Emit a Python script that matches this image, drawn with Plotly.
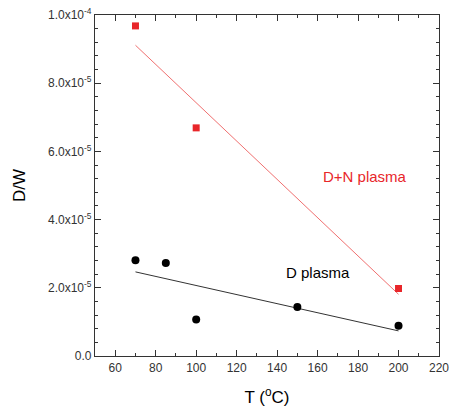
import numpy as np
import plotly.graph_objects as go

# Data
t_dn = [70, 100, 200]
dw_dn = [9.68e-5, 6.69e-5, 1.98e-5]
t_d = [70, 85, 100, 150, 200]
dw_d = [2.81e-5, 2.73e-5, 1.07e-5, 1.44e-5, 0.89e-5]

y_tickvals = [0, 2e-5, 4e-5, 6e-5, 8e-5, 1e-4]
y_ticktext = ["0.0", "2.0x10<sup>-5</sup>", "4.0x10<sup>-5</sup>", "6.0x10<sup>-5</sup>",
              "8.0x10<sup>-5</sup>", "1.0x10<sup>-4</sup>"]
x_tickvals = [60, 80, 100, 120, 140, 160, 180, 200, 220]

RED = "#e8262a"

def fit_line(x, y):
    k, b = np.polyfit(x, y, 1)
    xs = np.array([min(x), max(x)])
    return xs, k * xs + b

fig = go.Figure()
fx, fy = fit_line(t_dn, dw_dn)
fig.add_trace(go.Scatter(x=fx, y=fy, mode="lines", line=dict(color="#f07070", width=1), showlegend=False))
fx, fy = fit_line(t_d, dw_d)
fig.add_trace(go.Scatter(x=fx, y=fy, mode="lines", line=dict(color="#333333", width=1), showlegend=False))
fig.add_trace(go.Scatter(x=t_dn, y=dw_dn, mode="markers",
                         marker=dict(symbol="square", size=7, color=RED), showlegend=False))
fig.add_trace(go.Scatter(x=t_d, y=dw_d, mode="markers",
                         marker=dict(symbol="circle", size=8, color="black"), showlegend=False))

fig.add_annotation(x=183.4, y=5.26e-5, text="D+N plasma", showarrow=False,
                   font=dict(size=15, color=RED, family="Liberation Sans, Arial"))
fig.add_annotation(x=160.2, y=2.46e-5, text="D plasma", showarrow=False,
                   font=dict(size=15, color="black", family="Liberation Sans, Arial"))

axis_common = dict(showline=True, linecolor="#333333", linewidth=1.2, mirror="ticks",
                   ticks="inside", tickcolor="#333333", ticklen=6, tickwidth=1,
                   showgrid=False, zeroline=False, automargin=False,
                   tickfont=dict(size=12, color="#333333", family="Liberation Sans, Arial"))

fig.update_layout(
    width=451, height=411,
    margin=dict(l=95, r=12, t=15, b=55),
    paper_bgcolor="white", plot_bgcolor="white",
    xaxis=dict(range=[50, 220], tickvals=x_tickvals,
               minor=dict(ticks="inside", dtick=10, tick0=50, ticklen=3, tickcolor="#333333"),
               title=dict(text="T (<sup>o</sup>C)", font=dict(size=17, color="black",
                          family="Liberation Sans, Arial"), standoff=17),
               **axis_common),
    yaxis=dict(range=[0, 1e-4], tickvals=y_tickvals, ticktext=y_ticktext,
               minor=dict(ticks="inside", dtick=0.4e-5, tick0=0, ticklen=3, tickcolor="#333333"),
               title=dict(text="D/W", font=dict(size=17, color="black",
                          family="Liberation Sans, Arial"), standoff=18),
               **axis_common),
)

fig.write_html("out.html", config={"displayModeBar": False},
               post_script="document.body.style.margin='0px';document.body.style.overflow='hidden';")
